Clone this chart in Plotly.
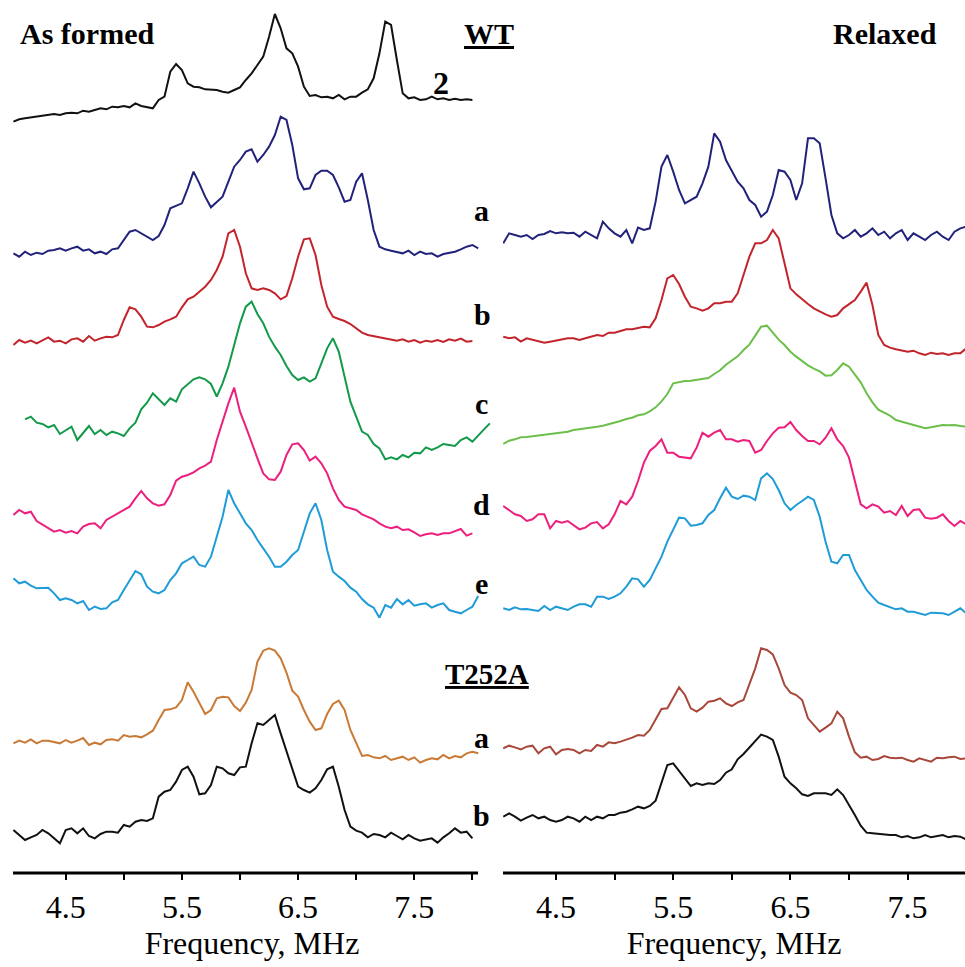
import plotly.graph_objects as go

# Frequency sampling (MHz)
FREQ_L = [4.05, 4.10, 4.15, 4.20, 4.25, 4.30, 4.35, 4.40, 4.45, 4.50,
          4.55, 4.60, 4.65, 4.70, 4.75, 4.80, 4.85, 4.90, 4.95, 5.00,
          5.05, 5.10, 5.15, 5.20, 5.25, 5.30, 5.35, 5.40, 5.45, 5.50,
          5.55, 5.60, 5.65, 5.70, 5.75, 5.80, 5.85, 5.90, 5.95, 6.00,
          6.05, 6.10, 6.15, 6.20, 6.25, 6.30, 6.35, 6.40, 6.45, 6.50,
          6.55, 6.60, 6.65, 6.70, 6.75, 6.80, 6.85, 6.90, 6.95, 7.00,
          7.05, 7.10, 7.15, 7.20, 7.25, 7.30, 7.35, 7.40, 7.45, 7.50,
          7.55, 7.60, 7.65, 7.70, 7.75, 7.80, 7.85, 7.90, 7.95, 8.00,
          8.05, 8.10, 8.15]
FREQ_R = FREQ_L[:80]

N = None
# ---------- As formed (left panel), intensities in arbitrary units ----------
WT_2 = [0, 7, 10, 13, 15, 17, 20, 23, 20, 25,
        27, 25, 33, 30, 35, 40, 37, 45, 43, 47,
        43, 55, 47, 43, 40, 65, 75, 150, 173, 155,
        115, 105, 103, 97, 97, 95, 90, 87, 95, 103,
        125, 145, 170, 195, 255, 323, 280, 220, 205, 165,
        105, 77, 80, 73, 75, 70, 80, 67, 75, 75,
        87, 97, 130, 205, 300, 290, 185, 85, 70, 73,
        65, 67, 75, 67, 70, 65, 69, 65, 67, 65,
        N, N, N]
WT_A_FORMED = [0, -10, 5, -5, 2, -2, 8, 10, 15, 8,
               15, 20, 8, 12, 0, 5, -2, 12, 15, 40,
               65, 70, 60, 50, 40, 52, 85, 135, 142, 150,
               195, 245, 210, 170, 138, 155, 170, 215, 260, 280,
               305, 312, 275, 295, 320, 355, 410, 400, 325, 225,
               192, 195, 235, 248, 248, 235, 198, 155, 160, 215,
               240, 160, 70, 20, 12, 8, 5, 0, 8, -5,
               5, -2, 0, -10, -2, 2, 5, 12, 20, 25,
               15, N, N]
WT_B_FORMED = [0, 15, 7, 13, 5, 15, 23, 10, 13, 5,
               17, 20, 10, 27, 13, 20, 25, 23, 30, 75,
               113, 107, 85, 55, 53, 60, 70, 77, 85, 113,
               137, 145, 160, 175, 195, 225, 265, 335, 345, 295,
               215, 170, 165, 170, 165, 155, 137, 147, 200, 265,
               317, 320, 270, 180, 115, 85, 78, 72, 63, 50,
               37, 30, 27, 23, 20, 17, 13, 17, 10, 15,
               7, 13, 10, 15, 9, 17, 13, 19, 10, 12,
               N, N, N]
WT_C_FORMED = [N, N, 0, 8, -10, -14, -24, -17, -44, -34,
               -22, -62, -40, -20, -44, -32, -47, -37, -42, -50,
               -27, -10, 30, 50, 78, 60, 43, 63, 53, 90,
               106, 120, 126, 120, 106, 68, 108, 158, 223, 288,
               338, 353, 316, 288, 248, 218, 193, 160, 133, 118,
               126, 113, 123, 168, 213, 243, 203, 128, 53, 8,
               -37, -47, -74, -87, -120, -114, -120, -107, -114, -100,
               -102, -84, -92, -84, -74, -77, -80, -62, -54, -67,
               -47, -30, -12]
WT_D_FORMED = [0, 15, 5, 10, -18, -28, -38, -50, -45, -53,
               -48, -55, -35, -27, -25, -40, -15, -5, 5, 15,
               25, 50, 72, 50, 35, 28, 32, 60, 103, 115,
               120, 128, 140, 148, 160, 225, 280, 335, 382, 310,
               265, 215, 170, 125, 107, 105, 130, 180, 212, 215,
               195, 163, 175, 155, 125, 80, 45, 25, 20, 15,
               2, -5, -13, -25, -35, -40, -35, -45, -43, -52,
               -63, -58, -55, -60, -55, -55, -48, -42, -62, -55,
               N, N, N]
WT_E_FORMED = [0, -15, -10, -22, -30, -28, -28, -45, -65, -60,
               -65, -75, -68, -95, -85, -92, -90, -72, -65, -35,
               -5, 22, 12, -25, -40, -45, -35, -5, 15, 45,
               55, 65, 40, 35, 65, 125, 185, 265, 225, 195,
               165, 145, 115, 90, 65, 35, 35, 50, 70, 85,
               140, 195, 225, 175, 85, 20, 5, -8, -28, -40,
               -62, -78, -88, -118, -80, -88, -62, -78, -65, -82,
               -78, -75, -88, -80, -75, -95, -100, -105, -95, -85,
               -53, N, N]
T252A_A_FORMED = [0, 8, 2, 12, 0, 8, 8, 4, 0, 10,
                  2, 8, 16, -5, 2, -3, 10, 12, 8, 25,
                  20, 22, 18, 27, 38, 70, 100, 102, 108, 130,
                  183, 155, 120, 88, 100, 135, 140, 138, 112, 97,
                  122, 160, 245, 278, 285, 278, 255, 212, 158, 140,
                  100, 65, 40, 45, 88, 118, 128, 100, 40, 0,
                  -38, -35, -42, -45, -38, -50, -45, -40, -50, -42,
                  -58, -50, -45, -48, -35, -45, -38, -42, -30, -25,
                  -30, N, N]
T252A_B_FORMED = [0, -15, -30, -22, -15, 0, -10, -25, -40, 0,
                  5, -10, 5, -18, -25, -12, -5, -5, -8, 15,
                  10, 25, 30, 27, 35, 100, 115, 120, 145, 180,
                  190, 160, 107, 110, 135, 190, 185, 170, 165, 188,
                  190, 260, 320, 315, 330, 345, 290, 235, 185, 130,
                  120, 112, 125, 150, 182, 190, 130, 60, 10, -2,
                  -8, -22, -12, -15, -22, -8, -18, -28, -15, -25,
                  -32, -28, -25, -38, -22, -10, 5, -8, -5, -25,
                  N, N, N]

# ---------- Relaxed (right panel) ----------
WT_A_RELAXED = [-25, 5, 0, -5, 0, -12, 0, 3, 12, 5,
                8, 5, 7, -5, 10, 0, -10, 40, 20, 5,
                -5, 15, -25, 22, 15, 20, 100, 205, 240, 190,
                135, 95, 105, 115, 155, 205, 305, 280, 225, 190,
                160, 140, 105, 90, 55, 70, 120, 195, 190, 165,
                105, 155, 290, 290, 275, 170, 60, 5, -10, 0,
                15, -5, 5, 20, 0, 10, -10, 5, 15, -15,
                5, -5, -15, 0, 10, -5, -15, 10, 20, 25]
WT_B_RELAXED = [0, -5, -2, -15, -5, -10, -15, -18, -15, -12,
                -10, -5, -5, -10, -5, 0, 5, 2, 12, 12,
                18, 22, 22, 25, 30, 28, 55, 110, 175, 185,
                158, 120, 90, 85, 78, 85, 100, 100, 105, 105,
                130, 185, 240, 280, 280, 290, 320, 295, 215, 145,
                127, 112, 98, 85, 75, 67, 60, 65, 85, 97,
                110, 135, 162, 95, 5, -25, -33, -38, -42, -45,
                -42, -50, -55, -48, -52, -50, -55, -50, -50, -35]
WT_C_RELAXED = [0, 10, 14, 20, 21, 23, 25, 28, 29, 32,
                35, 37, 42, 44, 47, 48, 52, 55, 59, 64,
                69, 75, 79, 86, 89, 98, 110, 128, 150, 182,
                186, 189, 190, 193, 195, 198, 210, 221, 238, 250,
                263, 282, 298, 325, 352, 355, 335, 313, 297, 277,
                262, 248, 236, 226, 218, 205, 206, 222, 242, 232,
                210, 185, 152, 125, 103, 95, 85, 72, 67, 62,
                57, 50, 47, 50, 53, 57, 56, 57, 54, 52]
WT_D_RELAXED = [0, -12, -25, -30, -45, -40, -25, -25, -67, -45,
                -50, -45, -57, -70, -65, -52, -48, -67, -55, -25,
                15, 5, 28, 75, 130, 165, 180, 200, 160, 160,
                148, 145, 143, 175, 220, 208, 220, 228, 200, 200,
                193, 198, 195, 160, 168, 195, 218, 235, 236, 252,
                228, 210, 195, 195, 185, 205, 233, 200, 180, 145,
                75, 5, -7, 5, -2, -20, -15, -27, 0, -30,
                -12, -10, -35, -38, -35, -25, -45, -60, -45, -55]
WT_E_RELAXED = [0, -5, 3, -3, -2, -5, -8, 7, -5, 5,
                0, -5, 5, 12, 12, 5, 35, 35, 28, 35,
                45, 65, 90, 87, 65, 85, 120, 155, 200, 235,
                272, 270, 248, 250, 255, 280, 295, 330, 362, 335,
                328, 338, 335, 325, 390, 405, 388, 355, 315, 295,
                310, 322, 335, 325, 275, 200, 140, 135, 160, 160,
                115, 85, 55, 35, 17, 10, 3, -3, 0, -10,
                -10, -15, -20, -13, -15, -15, -20, -10, 0, -15]
T252A_A_RELAXED = [0, 8, 3, -3, 5, 8, -15, 0, 5, -18,
                   -5, -2, -5, -15, -5, -8, 10, 5, 18, 15,
                   20, 25, 32, 40, 38, 55, 85, 118, 120, 150,
                   183, 160, 120, 110, 122, 140, 143, 150, 135, 127,
                   138, 145, 190, 240, 300, 295, 282, 240, 190, 167,
                   160, 145, 90, 70, 50, 62, 75, 110, 90, 35,
                   -12, -28, -25, -35, -32, -23, -28, -30, -28, -35,
                   -40, -30, -35, -40, -28, -30, -27, -25, -32, -30]
T252A_B_RELAXED = [0, 10, 0, -12, -3, 5, -5, 0, -10, -15,
                   -10, 0, -5, -15, 0, -10, 0, -5, 5, 5,
                   12, 15, 22, 30, 25, 32, 48, 105, 155, 160,
                   138, 115, 92, 100, 95, 100, 98, 110, 132, 142,
                   172, 188, 208, 228, 246, 240, 230, 180, 120, 100,
                   85, 67, 62, 70, 70, 70, 65, 82, 65, 37,
                   5, -27, -48, -50, -52, -55, -55, -55, -62, -58,
                   -65, -62, -55, -62, -58, -55, -62, -58, -60, -68]

# vertical stacking offsets (baseline of each spectrum, same units)
OFF_LEFT = [365, 760, 1035, 1258, 1545, 1735, 2230, 2490]
OFF_RIGHT = [705, 1010, 1332, 1518, 1825, 2245, 2450]

LEFT = [WT_2, WT_A_FORMED, WT_B_FORMED, WT_C_FORMED, WT_D_FORMED,
        WT_E_FORMED, T252A_A_FORMED, T252A_B_FORMED]
RIGHT = [WT_A_RELAXED, WT_B_RELAXED, WT_C_RELAXED, WT_D_RELAXED,
         WT_E_RELAXED, T252A_A_RELAXED, T252A_B_RELAXED]
COL_LEFT = ["#111111", "#22227a", "#c3242c", "#129a4a", "#ec1f7d",
            "#1f9bd8", "#c97a36", "#111111"]
COL_RIGHT = ["#22227a", "#c3242c", "#6cbf4a", "#ec1f7d", "#1f9bd8",
             "#a8473a", "#111111"]

fig = go.Figure()
for vals, off, col in zip(LEFT, OFF_LEFT, COL_LEFT):
    fig.add_trace(go.Scatter(
        x=FREQ_L, y=[None if v is None else v - off for v in vals],
        mode="lines", line=dict(color=col, width=2),
        xaxis="x", yaxis="y", showlegend=False, hoverinfo="skip"))
for vals, off, col in zip(RIGHT, OFF_RIGHT, COL_RIGHT):
    fig.add_trace(go.Scatter(
        x=FREQ_R, y=[None if v is None else v - off for v in vals],
        mode="lines", line=dict(color=col, width=2),
        xaxis="x2", yaxis="y2", showlegend=False, hoverinfo="skip"))

W, H = 965, 967
PLOT_H = 873
TICKS = [4.5, 5.0, 5.5, 6.0, 6.5, 7.0, 7.5, 8.0]
TICKTEXT = ["4.5", "", "5.5", "", "6.5", "", "7.5", ""]
SERIF = "Liberation Serif, Times New Roman, serif"

axis_common = dict(tickvals=TICKS, ticktext=TICKTEXT, ticks="outside",
                   ticklen=6, tickwidth=2, tickcolor="black",
                   showline=False, showgrid=False, zeroline=False,
                   tickfont=dict(family=SERIF, size=32, color="black"),
                   title=dict(text="Frequency, MHz", standoff=6,
                              font=dict(family=SERIF, size=32, color="black")))

fig.update_layout(
    width=W, height=H, margin=dict(l=0, r=0, t=0, b=H - PLOT_H),
    paper_bgcolor="white", plot_bgcolor="white",
    xaxis=dict(domain=[13 / W, 491 / W], range=[4.0465, 8.160],
               anchor="y", **axis_common),
    xaxis2=dict(domain=[503 / W, 1.0], range=[4.0478, 7.9898],
                anchor="y2", **axis_common),
    yaxis=dict(domain=[0, 1], range=[-3 * PLOT_H, 0], visible=False),
    yaxis2=dict(domain=[0, 1], range=[-3 * PLOT_H, 0], visible=False,
                anchor="x2"),
)

# axis baselines
fig.add_shape(type="line", xref="x", yref="paper", x0=4.0465, x1=8.0484,
              y0=0, y1=0, line=dict(color="black", width=3))
fig.add_shape(type="line", xref="x2", yref="paper", x0=4.0478, x1=7.9898,
              y0=0, y1=0, line=dict(color="black", width=3))


def lab(text, px, row, size=30, under=False):
    fig.add_annotation(
        x=px / W, y=(PLOT_H - row) / PLOT_H, xref="paper", yref="paper",
        text=text, showarrow=False, xanchor="center", yanchor="middle",
        font=dict(family=SERIF, size=size, color="black", weight="bold",
                  lineposition="under" if under else "none"))


lab("As formed", 87, 34, 30)
lab("WT", 489, 34, 30, under=True)
lab("2", 441, 83, 32)
lab("Relaxed", 885, 34, 30)
lab("a", 481, 210)
lab("b", 482, 314)
lab("c", 481, 403)
lab("d", 481, 505)
lab("e", 481, 583)
lab("T252A", 487, 674, 29, under=True)
lab("a", 481, 737)
lab("b", 481, 815)

fig.write_html(
    "out.html",
    config={"displayModeBar": False},
    post_script="document.body.style.margin='0';"
                "document.body.style.padding='0';"
                "document.body.style.overflow='hidden';")
